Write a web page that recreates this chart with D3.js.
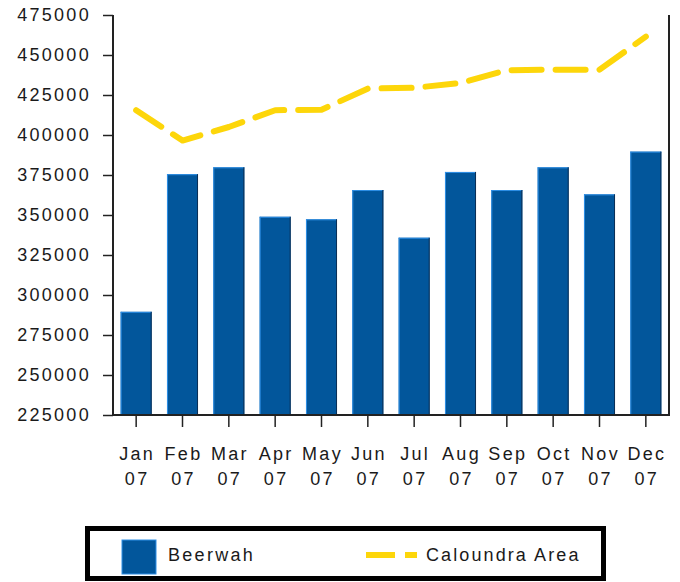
<!DOCTYPE html>
<html><head><meta charset="utf-8">
<script src="https://cdn.jsdelivr.net/npm/d3@7"></script>
<style>
html,body{margin:0;padding:0;background:#fff;}
svg{display:block;}
text{font-family:"Liberation Sans",Arial,sans-serif;fill:#1a1a1a;}
</style></head>
<body>
<svg id="chart" width="680" height="582"></svg>
<script>
const months = ["Jan 07","Feb 07","Mar 07","Apr 07","May 07","Jun 07","Jul 07","Aug 07","Sep 07","Oct 07","Nov 07","Dec 07"];
const beerwah = [289500,375500,379800,348900,347300,365600,335800,376900,365600,379800,362900,389600];
const caloundra = [415500,396500,405000,415500,415800,429000,429500,432500,440500,440800,440800,461500];
const yTicks = [225000,250000,275000,300000,325000,350000,375000,400000,425000,450000,475000];
const seriesNames = ["Beerwah","Caloundra Area"];

const svg = d3.select("#chart");
const L = 113, R = 669, T = 15, B = 415;

const x = d3.scaleBand().domain(months).range([L, R]).paddingInner(0.33).paddingOuter(0.165);
const y = d3.scaleLinear().domain([225000, 475000]).range([B, T]);

// bars
const bars = svg.append("g");
bars.selectAll("rect.bar").data(beerwah).join("rect")
  .attr("class","bar")
  .attr("x",(d,i)=>x(months[i]))
  .attr("y",d=>y(d))
  .attr("width",x.bandwidth())
  .attr("height",d=>B-y(d))
  .attr("fill","#02569b");
// highlight edges
bars.selectAll("line.hl").data(beerwah).join("line")
  .attr("x1",(d,i)=>x(months[i])+0.5).attr("x2",(d,i)=>x(months[i])+0.5)
  .attr("y1",d=>y(d)).attr("y2",B)
  .attr("stroke","#2e8fe6").attr("stroke-width",1);
bars.selectAll("line.tp").data(beerwah).join("line")
  .attr("x1",(d,i)=>x(months[i])).attr("x2",(d,i)=>x(months[i])+x.bandwidth())
  .attr("y1",d=>y(d)+0.5).attr("y2",d=>y(d)+0.5)
  .attr("stroke","#2e8fe6").attr("stroke-width",1);
bars.selectAll("line.sh").data(beerwah).join("line")
  .attr("x1",(d,i)=>x(months[i])+x.bandwidth()-0.5).attr("x2",(d,i)=>x(months[i])+x.bandwidth()-0.5)
  .attr("y1",d=>y(d)).attr("y2",B)
  .attr("stroke","#0b2f55").attr("stroke-width",1);

// line
const line = d3.line().x((d,i)=>x(months[i])+x.bandwidth()/2).y(d=>y(d));
svg.append("path").datum(caloundra)
  .attr("d",line)
  .attr("fill","none")
  .attr("stroke","#fdd60a")
  .attr("stroke-width",6)
  .attr("stroke-dasharray","30,14")
  .attr("stroke-linecap","round")
  .attr("stroke-linejoin","round");

// axes
const yAxis = svg.append("g").attr("transform",`translate(${L},0)`)
  .call(d3.axisLeft(y).tickValues(yTicks).tickSize(10).tickPadding(12).tickFormat(d3.format("d")));
yAxis.select(".domain").remove();
yAxis.selectAll(".tick line").attr("stroke","#222").attr("stroke-width",1.5);
yAxis.selectAll(".tick text").attr("font-size",18).attr("letter-spacing","2.3px")
  .attr("font-family","Liberation Sans, Arial, sans-serif").attr("fill","#1a1a1a");

const xAxis = svg.append("g").attr("transform",`translate(0,${B})`)
  .call(d3.axisBottom(x).tickSize(12).tickPadding(30));
xAxis.select(".domain").remove();
xAxis.selectAll(".tick line").attr("stroke","#222").attr("stroke-width",1.5);
xAxis.selectAll(".tick text").each(function(d){
  const t = d3.select(this);
  const parts = d.split(" ");
  t.text(null).attr("font-size",18).attr("letter-spacing","2.3px")
    .attr("font-family","Liberation Sans, Arial, sans-serif").attr("fill","#1a1a1a")
    .attr("y",32).attr("dy",0);
  t.append("tspan").attr("x",1).attr("dy","0.71em").text(parts[0]);
  t.append("tspan").attr("x",1).attr("dy","1.4em").text(parts[1]);
});

// frame lines
svg.append("path").attr("d",`M${L},${T}V${B}H${R}V${T}`)
  .attr("fill","none").attr("stroke","#222").attr("stroke-width",2);

// legend
const lg = svg.append("g");
lg.append("rect").attr("x",87.5).attr("y",528.5).attr("width",516).attr("height",50)
  .attr("fill","#fff").attr("stroke","#000").attr("stroke-width",5);
lg.append("rect").attr("x",122).attr("y",540).attr("width",34).attr("height",34).attr("fill","#02569b")
  .attr("stroke","#2e8fe6").attr("stroke-width",1);
lg.append("text").attr("x",168).attr("y",561).attr("font-size",18).attr("letter-spacing","2.3px").text(seriesNames[0]);
lg.append("line").attr("x1",366).attr("x2",417).attr("y1",555).attr("y2",555)
  .attr("stroke","#fdd60a").attr("stroke-width",6).attr("stroke-dasharray","29,10");
lg.append("text").attr("x",426).attr("y",561).attr("font-size",18).attr("letter-spacing","2.1px").text(seriesNames[1]);
</script>
</body></html>
